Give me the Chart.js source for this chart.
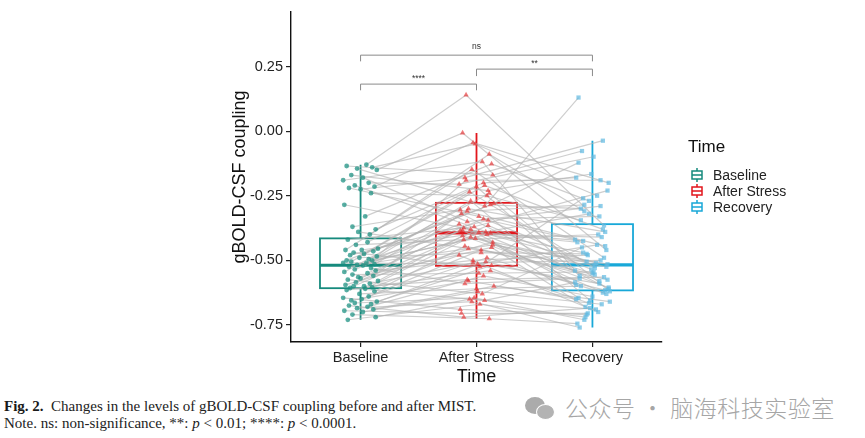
<!DOCTYPE html>
<html>
<head>
<meta charset="utf-8">
<script src="https://cdn.jsdelivr.net/npm/chart.js@4.4.1/dist/chart.umd.min.js"></script>
<style>
  body { margin: 0; background: #fff; width: 865px; height: 438px; overflow: hidden; position: relative; }
  #wrap { position: absolute; left: 0; top: 0; width: 865px; height: 390px; }
  .cap { position: absolute; left: 4px; font-family: "Liberation Serif", "DejaVu Serif", serif; font-size: 15px; line-height: 17px; color: #222; white-space: nowrap; }
  .cap b { color: #1a1a1a; }
  #wm { position: absolute; left: 565px; top: 392px; font-family: "Noto Sans CJK SC", sans-serif; font-weight: 300; font-size: 23px; line-height: 30px; letter-spacing: 0.5px; color: #a6a6a6; white-space: nowrap; }
  #icon { position: absolute; left: 525px; top: 397px; width: 30px; height: 24px; }
  #icon span { position: absolute; border-radius: 50%; background: #ababab; }
</style>
</head>
<body>
<div id="wrap"><canvas id="gboldChart"></canvas></div>
<div class="cap" style="top:398px"><b>Fig. 2.</b>&nbsp; Changes in the levels of gBOLD-CSF coupling before and after MIST.</div>
<div class="cap" style="top:415px">Note. ns: non-significance, **: <i>p</i> &lt; 0.01; ****: <i>p</i> &lt; 0.0001.</div>
<div id="icon"><span style="left:0;top:0;width:20px;height:17px"></span><span style="left:11px;top:7px;width:17px;height:14px;border:1.5px solid #fff;background:#b3b3b3"></span></div>
<div id="wm">公众号 · 脑海科技实验室</div>
<script>
// categories and tick labels
var categories = ['Baseline', 'After Stress', 'Recovery'];
var yTicks = [-0.75, -0.5, -0.25, 0, 0.25];

// one value per subject, same subject order in each array
var baseline = [
  -0.13, -0.135, -0.14, -0.145, -0.15, -0.17, -0.18, -0.19, -0.2, -0.21, -0.215, -0.22, -0.225, -0.24, -0.285, -0.33, -0.37, -0.38, -0.39, -0.4,
  -0.42, -0.43, -0.44, -0.455, -0.46, -0.46, -0.465, -0.47, -0.475, -0.48, -0.485, -0.49, -0.495, -0.5, -0.5, -0.505, -0.51, -0.51, -0.515, -0.518,
  -0.52, -0.525, -0.53, -0.535, -0.54, -0.545, -0.55, -0.555, -0.56, -0.565, -0.57, -0.575, -0.58, -0.585, -0.59, -0.595, -0.6, -0.6, -0.605, -0.607,
  -0.61, -0.615, -0.62, -0.63, -0.64, -0.645, -0.65, -0.655, -0.66, -0.665, -0.67, -0.675, -0.68, -0.685, -0.69, -0.695, -0.7, -0.71, -0.72, -0.73
];
var afterStress = [
  0.14, -0.17, -0.05, -0.29, -0.007, -0.23, -0.35, -0.118, -0.205, -0.395, -0.045, -0.33, -0.18, -0.25, -0.38, -0.127, -0.305, -0.2, -0.455, -0.089,
  -0.37, -0.215, -0.42, -0.28, -0.148, -0.39, -0.32, -0.525, -0.235, -0.345, -0.19, -0.47, -0.385, -0.285, -0.415, -0.21, -0.36, -0.515, -0.31, -0.44,
  -0.27, -0.4, -0.59, -0.34, -0.5, -0.24, -0.385, -0.55, -0.3, -0.45, -0.375, -0.63, -0.405, -0.365, -0.51, -0.43, -0.575, -0.392, -0.48, -0.655,
  -0.41, -0.54, -0.445, -0.61, -0.49, -0.69, -0.46, -0.58, -0.52, -0.645, -0.505, -0.72, -0.56, -0.66, -0.6, -0.705, -0.62, -0.726, -0.65, -0.67
];
var recovery = [
  -0.365, -0.077, -0.25, 0.13, -0.46, -0.166, -0.29, -0.54, -0.099, -0.425, -0.2, -0.505, -0.037, -0.345, -0.58, -0.27, -0.445, -0.18, -0.52, -0.31,
  -0.23, -0.56, -0.4, -0.122, -0.49, -0.32, -0.61, -0.26, -0.53, -0.42, -0.19, -0.475, -0.63, -0.3, -0.55, -0.38, -0.595, -0.44, -0.285, -0.515,
  -0.655, -0.41, -0.57, -0.33, -0.48, -0.62, -0.43, -0.545, -0.39, -0.68, -0.51, -0.45, -0.605, -0.535, -0.5, -0.645, -0.565, -0.47, -0.7, -0.585,
  -0.525, -0.665, -0.555, -0.6, -0.625, -0.71, -0.575, -0.65, -0.59, -0.73, -0.615, -0.685, -0.64, -0.76, -0.66, -0.705, -0.67, -0.745, -0.69, -0.72
];
// horizontal jitter of the points, in category units
var jitter = [
  0.05, -0.12, 0.1, -0.03, 0.14, -0.08, 0.02, -0.15, 0.07, -0.05, 0.12, -0.1, 0.0, 0.09, -0.14, 0.04, -0.07, 0.13, -0.02, 0.08,
  -0.11, 0.06, -0.04, 0.15, -0.13, 0.01, 0.11, -0.06, 0.03, -0.09, 0.14, -0.01, 0.07, -0.12, 0.1, -0.08, 0.05, -0.15, 0.12, -0.03,
  0.02, -0.1, 0.09, -0.05, 0.13, -0.14, 0.06, -0.07, 0.11, -0.02, 0.0, -0.11, 0.15, -0.04, 0.08, -0.13, 0.03, -0.06, 0.1, -0.09,
  0.04, -0.12, 0.12, -0.01, 0.07, -0.15, 0.01, -0.08, 0.14, -0.05, 0.09, -0.1, 0.06, -0.03, 0.11, -0.14, 0.02, -0.07, 0.13, -0.11
];
// significance brackets: from group, to group, label
var brackets = [
  { from: 1, to: 3, top: 0.294, foot: 0.27, label: 'ns' },
  { from: 2, to: 3, top: 0.24, foot: 0.213, label: '**' },
  { from: 1, to: 2, top: 0.182, foot: 0.158, label: '****' }
];

var groups = [baseline, afterStress, recovery];
var boxColors = ['#168a7d', '#e2161c', '#18a8d8'];
var pointColors = ['rgba(24,143,128,0.72)', 'rgba(232,40,42,0.62)', 'rgba(95,185,225,0.7)'];
var pointStyles = ['circle', 'triangle', 'rect'];
var pointRadius = [2.4, 3.1, 3.0];

function jx(g, i) {
    return g + 1 + jitter[(i + 29 * g) % jitter.length];
}

function quantile(sorted, p) {
    var h = (sorted.length - 1) * p;
    var lo = Math.floor(h);
    var hi = Math.min(lo + 1, sorted.length - 1);
    return sorted[lo] + (h - lo) * (sorted[hi] - sorted[lo]);
}

function boxStats(values) {
    var s = values.slice().sort(function (a, b) { return a - b; });
    var q1 = quantile(s, 0.25), med = quantile(s, 0.5), q3 = quantile(s, 0.75);
    var iqr = q3 - q1;
    var lowW = s.filter(function (v) { return v >= q1 - 1.5 * iqr; })[0];
    var inside = s.filter(function (v) { return v <= q3 + 1.5 * iqr; });
    return { q1: q1, med: med, q3: q3, lo: lowW, hi: inside[inside.length - 1] };
}

// boxplots drawn under the lines and points
var boxPlugin = {
    id: 'boxes',
    beforeDatasetsDraw: function (chart) {
        var ctx = chart.ctx, xs = chart.scales.x, ys = chart.scales.y;
        groups.forEach(function (vals, g) {
            var st = boxStats(vals);
            var cx = xs.getPixelForValue(g + 1);
            var l = xs.getPixelForValue(g + 1 - 0.35), r = xs.getPixelForValue(g + 1 + 0.35);
            ctx.save();
            ctx.strokeStyle = boxColors[g];
            ctx.lineWidth = 1.8;
            ctx.beginPath();
            ctx.moveTo(cx, ys.getPixelForValue(st.hi));
            ctx.lineTo(cx, ys.getPixelForValue(st.q3));
            ctx.moveTo(cx, ys.getPixelForValue(st.q1));
            ctx.lineTo(cx, ys.getPixelForValue(st.lo));
            ctx.stroke();
            ctx.strokeRect(l, ys.getPixelForValue(st.q3), r - l, ys.getPixelForValue(st.q1) - ys.getPixelForValue(st.q3));
            ctx.lineWidth = 3.2;
            ctx.beginPath();
            ctx.moveTo(l, ys.getPixelForValue(st.med));
            ctx.lineTo(r, ys.getPixelForValue(st.med));
            ctx.stroke();
            ctx.restore();
        });
    },
    afterDraw: function (chart) {
        var ctx = chart.ctx, xs = chart.scales.x, ys = chart.scales.y;
        ctx.save();
        // significance brackets
        brackets.forEach(function (b) {
            var x1 = xs.getPixelForValue(b.from), x2 = xs.getPixelForValue(b.to);
            var yt = ys.getPixelForValue(b.top), yf = ys.getPixelForValue(b.foot);
            ctx.strokeStyle = '#8a8a8a';
            ctx.lineWidth = 1;
            ctx.beginPath();
            ctx.moveTo(x1, yf); ctx.lineTo(x1, yt); ctx.lineTo(x2, yt); ctx.lineTo(x2, yf);
            ctx.stroke();
            ctx.fillStyle = '#333';
            ctx.font = '8.5px "Liberation Sans", Arial, sans-serif';
            ctx.textAlign = 'center';
            ctx.textBaseline = 'alphabetic';
            ctx.fillText(b.label, (x1 + x2) / 2, yt - (b.label === 'ns' ? 6 : 3));
        });
        // legend
        var lx = 688, ly = 147;
        ctx.fillStyle = '#111';
        ctx.textAlign = 'left';
        ctx.textBaseline = 'middle';
        ctx.font = '17px "Liberation Sans", Arial, sans-serif';
        ctx.fillText('Time', lx, ly);
        ctx.font = '14px "Liberation Sans", Arial, sans-serif';
        categories.forEach(function (c, g) {
            var y = 175 + g * 16, x = 697;
            ctx.strokeStyle = boxColors[g];
            ctx.lineWidth = 1.5;
            ctx.strokeRect(x - 5, y - 4, 10, 8);
            ctx.beginPath();
            ctx.moveTo(x - 5, y); ctx.lineTo(x + 5, y);
            ctx.moveTo(x, y - 4); ctx.lineTo(x, y - 7);
            ctx.moveTo(x, y + 4); ctx.lineTo(x, y + 7);
            ctx.stroke();
            ctx.fillStyle = '#222';
            ctx.fillText(c, 713, y + 1);
        });
        ctx.restore();
    }
};

var datasets = [];
// paired lines per subject
baseline.forEach(function (v, i) {
    datasets.push({
        showLine: true,
        data: groups.map(function (vals, g) { return { x: jx(g, i), y: vals[i] }; }),
        borderColor: 'rgba(180,180,180,0.65)',
        borderWidth: 1.2,
        pointRadius: 0,
        order: 2
    });
});
// jittered points
groups.forEach(function (vals, g) {
    datasets.push({
        data: vals.map(function (v, i) { return { x: jx(g, i), y: v }; }),
        backgroundColor: pointColors[g],
        borderColor: pointColors[g],
        borderWidth: 0,
        pointStyle: pointStyles[g],
        pointRadius: pointRadius[g],
        order: 1
    });
});

var tickFont = { family: '"Liberation Sans", Arial, sans-serif', size: 14.5 };
var titleFont = { family: '"Liberation Sans", Arial, sans-serif', size: 18 };

var ctxGbold = document.getElementById('gboldChart').getContext('2d');
var gboldChart = new Chart(ctxGbold, {
    type: 'scatter',
    data: { datasets: datasets },
    plugins: [boxPlugin],
    options: {
        responsive: true,
        maintainAspectRatio: false,
        animation: false,
        layout: { padding: { left: 225, right: 203, top: 12, bottom: 0 } },
        plugins: {
            legend: { display: false },
            tooltip: { enabled: false }
        },
        scales: {
            x: {
                type: 'linear',
                min: 0.4,
                max: 3.6,
                afterBuildTicks: function (scale) {
                    scale.ticks = categories.map(function (c, i) { return { value: i + 1 }; });
                },
                afterFit: function (scale) { scale.height = 48; },
                ticks: {
                    color: '#222',
                    font: tickFont,
                    padding: 2,
                    callback: function (v) { return categories[v - 1]; }
                },
                grid: { drawOnChartArea: false, drawTicks: true, tickLength: 5, color: '#222', lineWidth: 1.2 },
                border: { display: true, color: '#111', width: 1.4 },
                title: { display: true, text: 'Time', color: '#111', font: titleFont, padding: { top: 0, bottom: 2 } }
            },
            y: {
                min: -0.816,
                max: 0.461,
                afterBuildTicks: function (scale) {
                    scale.ticks = yTicks.map(function (v) { return { value: v }; });
                },
                afterFit: function (scale) { scale.width = 66; },
                ticks: {
                    color: '#222',
                    font: tickFont,
                    padding: 3,
                    callback: function (v) { return v.toFixed(2); }
                },
                grid: { drawOnChartArea: false, drawTicks: true, tickLength: 5, color: '#222', lineWidth: 1.2 },
                border: { display: true, color: '#111', width: 1.4 },
                title: { display: true, text: 'gBOLD-CSF coupling', color: '#111', font: titleFont, padding: { top: 4, bottom: 0 } }
            }
        }
    }
});
</script>
</body>
</html>
